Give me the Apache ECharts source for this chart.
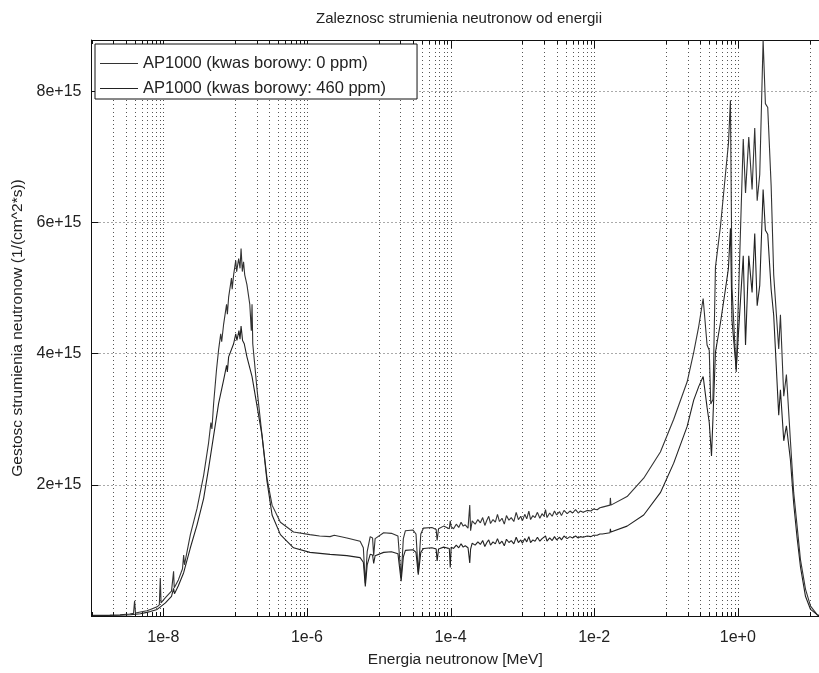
<!DOCTYPE html>
<html>
<head>
<meta charset="utf-8">
<script src="https://cdn.jsdelivr.net/npm/echarts@6/dist/echarts.min.js"></script>
<style>
html,body{margin:0;padding:0;background:#fff;}
#chart{width:819px;height:673px;}
</style>
</head>
<body>
<div id="chart"></div>
<script>
// ---- data (energy in MeV, flux in 1/(cm^2*s)) ----
const seriesNames = ['AP1000 (kwas borowy: 0 ppm)', 'AP1000 (kwas borowy: 460 ppm)'];

const energy0 = [1.05e-9,1.8e-9,2.5e-9,3.4e-9,3.85e-9,3.98e-9,4.1e-9,4.8e-9,5.9e-9,6.6e-9,8.2e-9,8.8e-9,9.08e-9,9.3e-9,
1.07e-8,1.3e-8,1.39e-8,1.42e-8,1.62e-8,1.85e-8,1.92e-8,1.97e-8,2.38e-8,2.95e-8,3.64e-8,4.27e-8,4.6e-8,4.75e-8,5.02e-8,5.5e-8,5.89e-8,6.3e-8,6.5e-8,6.92e-8,7.6e-8,7.8e-8,8.12e-8,8.9e-8,9.1e-8,9.53e-8,
1.02e-7,1.05e-7,1.12e-7,1.17e-7,1.21e-7,1.26e-7,1.31e-7,1.36e-7,1.46e-7,1.6e-7,1.68e-7,1.72e-7,1.76e-7,2.02e-7,2.37e-7,2.78e-7,3.27e-7,4.27e-7,6.5e-7,
1.1e-6,1.5e-6,2.1e-6,2.4e-6,3.6e-6,5.5e-6,6.1e-6,6.5e-6,6.9e-6,7.6e-6,8.2e-6,8.5e-6,8.9e-6,
1.17e-5,1.5e-5,1.85e-5,2.05e-5,2.2e-5,2.35e-5,3.0e-5,3.3e-5,3.55e-5,3.85e-5,4.2e-5,5.5e-5,6.3e-5,6.5e-5,6.8e-5,8.0e-5,9.6e-5,9.9e-5,
1.02e-4,1.1e-4,1.2e-4,1.3e-4,1.4e-4,1.5e-4,1.6e-4,1.75e-4,1.85e-4,1.9e-4,2.0e-4,2.2e-4,2.4e-4,2.6e-4,2.8e-4,3.0e-4,3.2e-4,3.4e-4,3.6e-4,3.9e-4,
4.2e-4,4.5e-4,4.8e-4,5.2e-4,5.6e-4,6.0e-4,6.5e-4,7.0e-4,7.6e-4,8.2e-4,8.8e-4,9.5e-4,
1.0e-3,1.08e-3,1.15e-3,1.23e-3,1.3e-3,1.4e-3,1.5e-3,1.62e-3,1.75e-3,1.88e-3,2.0e-3,2.1e-3,2.2e-3,2.4e-3,2.6e-3,2.8e-3,3.0e-3,3.3e-3,3.5e-3,3.8e-3,
4.2e-3,4.6e-3,5.0e-3,5.5e-3,6.0e-3,6.4e-3,7.0e-3,8.0e-3,9.0e-3,9.8e-3,1.1e-2,1.2e-2,1.3e-2,
1.66e-2,1.68e-2,1.71e-2,2.87e-2,4.89e-2,8.35e-2,0.128,0.197,0.243,0.286,0.329,0.373,0.40,0.42,0.45,0.488,0.573,0.672,0.74,0.789,0.83,0.95,
1.19,1.28,1.42,1.58,1.72,1.86,2.02,2.25,2.42,2.61,2.91,3.16,3.71,3.92,4.36,4.75,5.4,6.0,6.69,7.45,8.75,10.3,12.7,13.5];

const flux0 = [0.01e15,0.015e15,0.02e15,0.03e15,0.04e15,0.23e15,0.045e15,0.06e15,0.08e15,0.1e15,0.14e15,0.17e15,0.58e15,0.2e15,
0.28e15,0.38e15,0.68e15,0.43e15,0.55e15,0.72e15,0.93e15,0.78e15,1.24e15,1.64e15,2.14e15,2.64e15,2.95e15,2.85e15,3.24e15,3.75e15,4.06e15,4.3e15,4.18e15,4.45e15,4.75e15,4.6e15,4.86e15,5.15e15,4.98e15,5.2e15,
5.42e15,5.25e15,5.45e15,5.3e15,5.6e15,5.25e15,5.4e15,5.2e15,5.05e15,4.75e15,4.35e15,4.75e15,4.15e15,3.45e15,2.75e15,2.1e15,1.69e15,1.43e15,1.28e15,
1.24e15,1.22e15,1.21e15,1.23e15,1.19e15,1.14e15,1.04e15,0.5e15,0.98e15,1.21e15,1.19e15,0.92e15,1.18e15,
1.27e15,1.26e15,1.22e15,0.58e15,1.18e15,1.3e15,1.31e15,1.25e15,0.66e15,1.25e15,1.34e15,1.35e15,1.32e15,1.15e15,1.33e15,1.37e15,1.33e15,1.45e15,
1.36e15,1.33e15,1.4e15,1.35e15,1.43e15,1.37e15,1.39e15,1.34e15,1.69e15,1.3e15,1.45e15,1.4e15,1.47e15,1.42e15,1.5e15,1.38e15,1.46e15,1.52e15,1.41e15,1.47e15,
1.43e15,1.55e15,1.44e15,1.49e15,1.4e15,1.53e15,1.46e15,1.5e15,1.44e15,1.58e15,1.47e15,1.52e15,
1.45e15,1.55e15,1.48e15,1.6e15,1.47e15,1.53e15,1.5e15,1.58e15,1.49e15,1.56e15,1.52e15,1.62e15,1.5e15,1.57e15,1.52e15,1.6e15,1.54e15,1.59e15,1.53e15,1.61e15,
1.56e15,1.6e15,1.57e15,1.62e15,1.57e15,1.6e15,1.58e15,1.61e15,1.6e15,1.63e15,1.62e15,1.65e15,1.66e15,
1.69e15,1.8e15,1.69e15,1.82e15,2.1e15,2.5e15,3.0e15,3.57e15,4.02e15,4.42e15,4.84e15,4.13e15,4.05e15,3.23e15,3.3e15,5.32e15,5.94e15,6.73e15,7.2e15,7.86e15,5.0e15,3.72e15,
7.27e15,6.45e15,7.3e15,6.5e15,7.44e15,6.33e15,6.73e15,8.78e15,7.81e15,7.75e15,6.56e15,5.2e15,4.07e15,4.59e15,3.35e15,3.68e15,2.67e15,1.88e15,1.37e15,0.86e15,0.41e15,0.15e15,0.02e15,0.005e15];

const energy460 = [1.05e-9,2.5e-9,3.5e-9,4.8e-9,5.9e-9,6.6e-9,8.2e-9,9.1e-9,
1.07e-8,1.3e-8,1.39e-8,1.43e-8,1.62e-8,1.92e-8,2.38e-8,2.95e-8,3.64e-8,4.27e-8,5.02e-8,5.89e-8,6.92e-8,7.6e-8,7.8e-8,8.12e-8,9.53e-8,
1.02e-7,1.06e-7,1.13e-7,1.17e-7,1.21e-7,1.27e-7,1.34e-7,1.46e-7,1.72e-7,2.02e-7,2.37e-7,2.78e-7,3.27e-7,4.27e-7,6.5e-7,
1.1e-6,2.1e-6,3.6e-6,5.5e-6,6.1e-6,6.5e-6,6.9e-6,7.6e-6,8.2e-6,8.5e-6,8.9e-6,
1.17e-5,1.5e-5,1.85e-5,2.05e-5,2.2e-5,2.35e-5,3.0e-5,3.3e-5,3.55e-5,3.85e-5,4.2e-5,5.5e-5,6.3e-5,6.5e-5,6.8e-5,8.0e-5,9.6e-5,9.9e-5,
1.02e-4,1.1e-4,1.2e-4,1.3e-4,1.4e-4,1.5e-4,1.6e-4,1.75e-4,1.85e-4,1.9e-4,2.0e-4,2.2e-4,2.4e-4,2.6e-4,2.8e-4,3.0e-4,3.2e-4,3.4e-4,3.6e-4,3.9e-4,
4.2e-4,4.5e-4,4.8e-4,5.2e-4,5.6e-4,6.0e-4,6.5e-4,7.0e-4,7.6e-4,8.2e-4,8.8e-4,9.5e-4,
1.0e-3,1.08e-3,1.15e-3,1.23e-3,1.3e-3,1.4e-3,1.5e-3,1.62e-3,1.75e-3,1.88e-3,2.0e-3,2.1e-3,2.2e-3,2.4e-3,2.6e-3,2.8e-3,3.0e-3,3.3e-3,3.5e-3,3.8e-3,
4.2e-3,4.6e-3,5.0e-3,5.5e-3,6.0e-3,6.4e-3,7.0e-3,8.0e-3,9.0e-3,9.8e-3,1.1e-2,1.2e-2,1.3e-2,
1.66e-2,1.68e-2,1.71e-2,2.87e-2,4.89e-2,8.35e-2,0.128,0.197,0.243,0.286,0.329,0.373,0.40,0.43,0.45,0.488,0.573,0.672,0.74,0.789,0.83,0.95,
1.19,1.28,1.42,1.58,1.72,1.86,2.02,2.25,2.42,2.61,2.91,3.16,3.71,3.92,4.36,4.75,5.4,6.0,6.69,7.45,8.75,10.3,12.7,13.5];

const flux460 = [0.005e15,0.012e15,0.02e15,0.035e15,0.055e15,0.07e15,0.1e15,0.14e15,
0.2e15,0.3e15,0.42e15,0.34e15,0.46e15,0.66e15,1.04e15,1.39e15,1.79e15,2.25e15,2.75e15,3.24e15,3.6e15,3.82e15,3.72e15,3.95e15,4.15e15,
4.3e15,4.2e15,4.35e15,4.22e15,4.42e15,4.2e15,4.15e15,3.95e15,3.65e15,3.2e15,2.75e15,2.05e15,1.54e15,1.24e15,1.04e15,
0.97e15,0.94e15,0.92e15,0.89e15,0.82e15,0.45e15,0.78e15,0.94e15,0.93e15,0.8e15,0.92e15,
0.97e15,0.98e15,0.95e15,0.53e15,0.9e15,1.0e15,1.01e15,0.97e15,0.63e15,0.97e15,1.03e15,1.04e15,1.02e15,0.84e15,1.02e15,1.05e15,1.03e15,0.74e15,
1.05e15,1.03e15,1.08e15,1.04e15,1.1e15,1.05e15,1.07e15,1.04e15,0.81e15,1.02e15,1.11e15,1.08e15,1.13e15,1.09e15,1.15e15,1.06e15,1.12e15,1.16e15,1.08e15,1.13e15,
1.1e15,1.18e15,1.1e15,1.14e15,1.07e15,1.17e15,1.12e15,1.15e15,1.1e15,1.2e15,1.12e15,1.16e15,
1.11e15,1.18e15,1.13e15,1.21e15,1.12e15,1.16e15,1.14e15,1.2e15,1.14e15,1.18e15,1.15e15,1.22e15,1.14e15,1.19e15,1.15e15,1.21e15,1.16e15,1.2e15,1.16e15,1.22e15,
1.18e15,1.21e15,1.19e15,1.22e15,1.19e15,1.21e15,1.2e15,1.22e15,1.21e15,1.23e15,1.23e15,1.25e15,1.25e15,
1.27e15,1.33e15,1.28e15,1.37e15,1.54e15,1.88e15,2.33e15,2.89e15,3.29e15,3.5e15,3.65e15,3.18e15,2.95e15,2.44e15,3.0e15,4.02e15,4.47e15,4.98e15,5.3e15,5.91e15,4.5e15,3.76e15,
5.49e15,4.13e15,5.49e15,4.93e15,5.83e15,4.73e15,5.04e15,6.5e15,5.88e15,5.82e15,4.98e15,4.58e15,3.06e15,3.45e15,2.67e15,2.9e15,2.38e15,1.71e15,1.19e15,0.75e15,0.3e15,0.1e15,0.02e15,0.005e15];

// axis ticks
const xMajorTicks = [1e-8, 1e-6, 1e-4, 1e-2, 1e0];
const xTickLabels = ['1e-8', '1e-6', '1e-4', '1e-2', '1e+0'];
const xMinorDecades = [-9, -7, -5, -3, -1, 1];
const yTicks = [2e15, 4e15, 6e15, 8e15];
const yTickLabels = ['2e+15', '4e+15', '6e+15', '8e+15'];

const xMin = 1e-9, xMax = 13.5;
const yMin = 0, yMax = 8.78e15;

// ---- build ----
const FONT = 'Liberation Sans';
const pair = (xs, ys) => xs.map((x, i) => [x, ys[i]]);

const gridData = [];
const gridLabel = [];
xMinorDecades.forEach(d => {
  for (let k = 1; k <= 9; k++) {
    const v = k * Math.pow(10, d);
    if (v >= xMin && v <= xMax) { gridData.push([v, 0, 0]); gridLabel.push(''); }
  }
});
xMajorTicks.forEach((v, i) => { gridData.push([v, 0, 1]); gridLabel.push(xTickLabels[i]); });

function renderGrid(params, api) {
  const v = api.value(0);
  const major = api.value(2) === 1;
  const p = api.coord([v, 0]);
  const cs = params.coordSys;
  const x = Math.round(p[0]) + 0.5;
  const top = cs.y, bottom = cs.y + cs.height;
  const tl = major ? 8 : 4;
  const children = [];
  if (x > cs.x + 1.5) {
    children.push({type: 'line', shape: {x1: x, y1: top, x2: x, y2: bottom},
      style: {stroke: '#555', lineWidth: 1, lineDash: [1, 3]}});
  }
  children.push({type: 'line', shape: {x1: x, y1: bottom, x2: x, y2: bottom - tl}, style: {stroke: '#111', lineWidth: 1}});
  children.push({type: 'line', shape: {x1: x, y1: top, x2: x, y2: top + tl}, style: {stroke: '#111', lineWidth: 1}});
  const lab = gridLabel[params.dataIndex];
  if (lab) {
    children.push({type: 'text', x: p[0], y: bottom + 14,
      style: {text: lab, fill: '#222', font: '16px "' + FONT + '"', align: 'center', verticalAlign: 'top'}});
  }
  return {type: 'group', children: children};
}

const chart = echarts.init(document.getElementById('chart'), null, {renderer: 'canvas'});
chart.setOption({
  animation: false,
  backgroundColor: '#fff',
  textStyle: {fontFamily: FONT},
  title: {
    text: 'Zaleznosc strumienia neutronow od energii',
    left: 454, top: 6, textAlign: 'center',
    textStyle: {fontSize: 15, fontWeight: 'normal', color: '#222', fontFamily: FONT}
  },
  legend: {
    data: seriesNames,
    orient: 'vertical',
    left: 95, top: 44,
    padding: [11, 31, 2, 5],
    icon: 'rect',
    itemWidth: 38, itemHeight: 1, itemGap: 8,
    backgroundColor: '#fff',
    borderColor: '#111', borderWidth: 1,
    textStyle: {fontSize: 16.5, color: '#222', fontFamily: FONT, lineHeight: 17},
    z: 10
  },
  grid: {left: 91.5, right: 0, top: 40, bottom: 51, containLabel: false},
  xAxis: [{
    type: 'log', logBase: 10, min: xMin, max: xMax,
    name: 'Energia neutronow [MeV]', nameLocation: 'middle', nameGap: 36,
    nameTextStyle: {fontSize: 15.5, color: '#222', fontFamily: FONT},
    axisLine: {show: true, lineStyle: {color: '#111', width: 1}},
    axisTick: {show: false}, axisLabel: {show: false},
    splitLine: {show: false}, minorTick: {show: false}, minorSplitLine: {show: false}
  }, {
    type: 'log', logBase: 10, min: xMin, max: xMax, position: 'top',
    axisLine: {show: true, lineStyle: {color: '#111', width: 1}},
    axisTick: {show: false}, axisLabel: {show: false}, splitLine: {show: false}
  }],
  yAxis: {
    type: 'value', min: yMin, max: yMax, interval: 2e15,
    name: 'Gestosc strumienia neutronow (1/(cm^2*s))', nameLocation: 'middle', nameGap: 66,
    nameTextStyle: {fontSize: 15.5, color: '#222', fontFamily: FONT},
    axisLine: {show: true, lineStyle: {color: '#111', width: 1}},
    axisTick: {show: true, inside: true, length: 7, lineStyle: {color: '#111'}},
    axisLabel: {
      fontSize: 16, color: '#222', margin: 10, fontFamily: FONT,
      formatter: v => { const i = yTicks.findIndex(t => Math.abs(t - v) < 1e12); return i >= 0 ? yTickLabels[i] : ''; }
    },
    splitLine: {show: true, lineStyle: {color: '#555', width: 1, type: [1, 3]}}
  },
  series: [{
    type: 'custom', name: 'grid', renderItem: renderGrid, data: gridData,
    encode: {x: 0, y: 1}, z: 1, silent: true, clip: false
  }, {
    type: 'line', name: seriesNames[0], data: pair(energy0, flux0),
    showSymbol: false, symbol: 'none', z: 3,
    lineStyle: {color: '#333', width: 1.1}, itemStyle: {color: '#333'}
  }, {
    type: 'line', name: seriesNames[1], data: pair(energy460, flux460),
    showSymbol: false, symbol: 'none', z: 3,
    lineStyle: {color: '#222', width: 1.1}, itemStyle: {color: '#222'}
  }]
});
</script>
</body>
</html>
